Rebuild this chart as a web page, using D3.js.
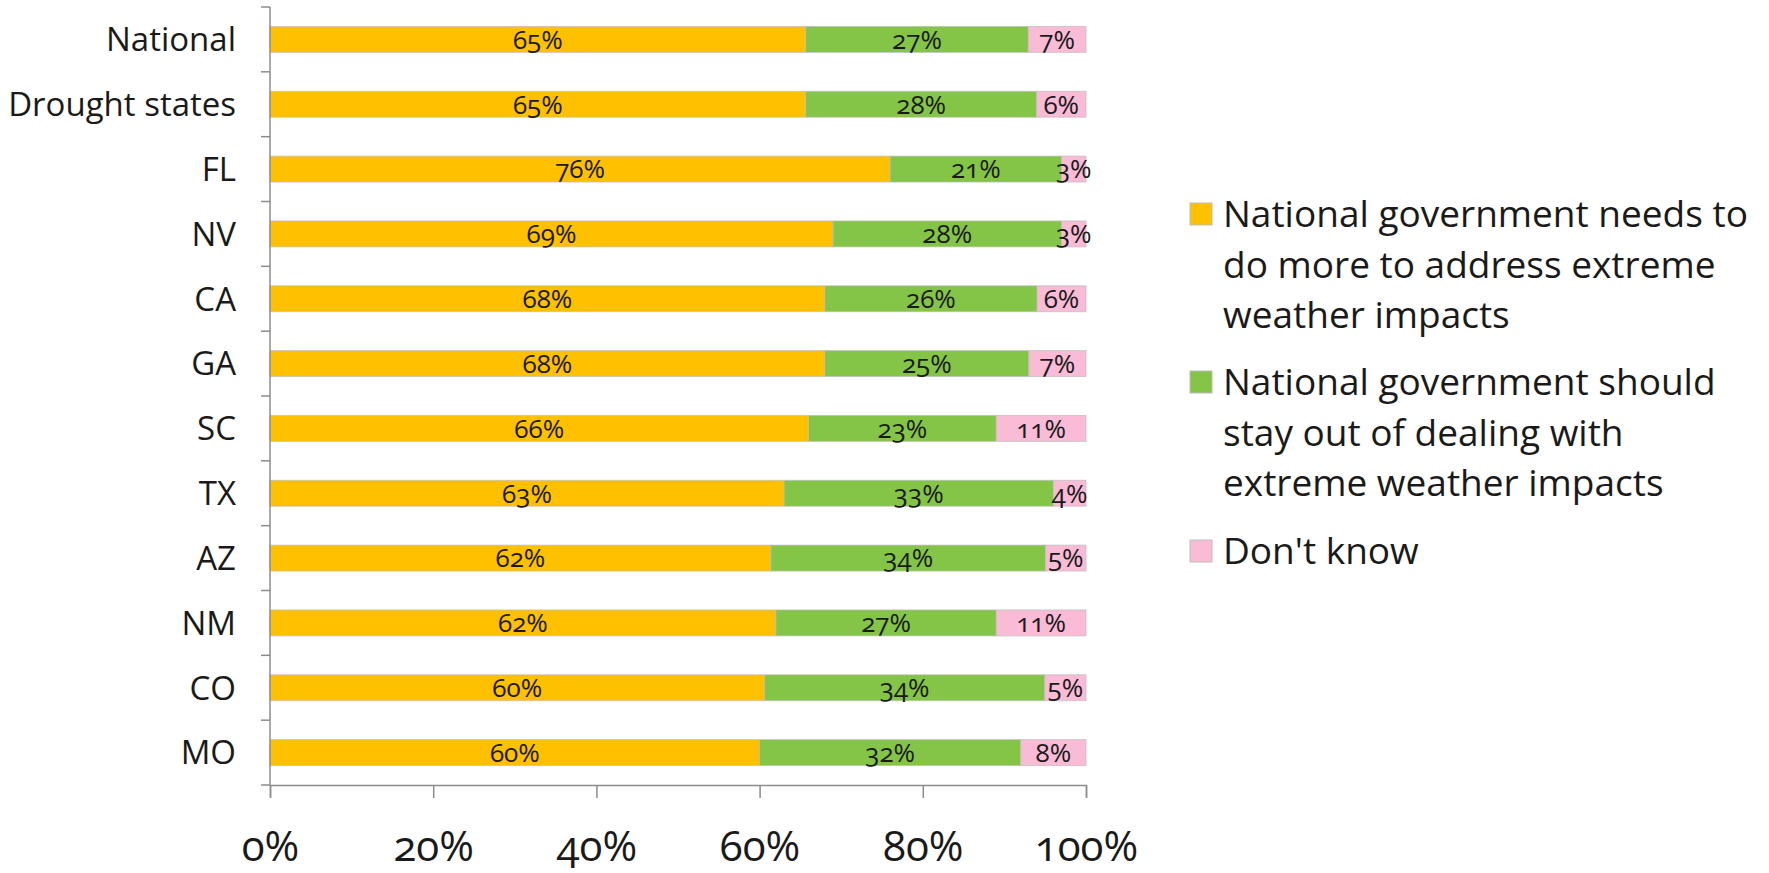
<!DOCTYPE html>
<html>
<head>
<meta charset="utf-8">
<script src="https://cdn.jsdelivr.net/npm/d3@7"></script>
<style>
  html, body { margin: 0; padding: 0; background: #fff; }
  svg { display: block; font-family: "Open Sans", "Lato", sans-serif; font-variant-numeric: oldstyle-nums; }
</style>
</head>
<body>
<svg id="chart" width="1769" height="873"></svg>
<script>
// ---- data ----
const categories = ["National", "Drought states", "FL", "NV", "CA", "GA", "SC", "TX", "AZ", "NM", "CO", "MO"];
const needMore   = [65, 65, 76, 69, 68, 68, 66, 63, 62, 62, 60, 60];
const stayOut    = [27, 28, 21, 28, 26, 25, 23, 33, 34, 27, 34, 32];
const dontKnow   = [7, 6, 3, 3, 6, 7, 11, 4, 5, 11, 5, 8];
const seriesNames = [
  ["National government needs to", "do more to address extreme", "weather impacts"],
  ["National government should", "stay out of dealing with", "extreme weather impacts"],
  ["Don't know"]
];
const seriesColors = ["#FFC000", "#84C446", "#F9BBD6"];
const xTicks = [0, 0.2, 0.4, 0.6, 0.8, 1.0];

// ---- layout ----
const svg = d3.select("#chart");
const plot = { left: 270, right: 1086, top: 7, bottom: 785 };

const x = d3.scaleLinear().domain([0, 1]).range([plot.left, plot.right]);
const y = d3.scaleBand().domain(categories).range([plot.top, plot.bottom])
  .paddingInner(0.6).paddingOuter(0.3);

const rows = categories.map((c, i) => ({ cat: c, vals: [needMore[i], stayOut[i], dontKnow[i]] }));

// bars (100% stacked)
const segs = [];
rows.forEach(r => {
  const total = d3.sum(r.vals);
  let acc = 0;
  r.vals.forEach((v, k) => {
    segs.push({ cat: r.cat, k, v, x0: acc / total, x1: (acc + v) / total });
    acc += v;
  });
});

const gBars = svg.append("g");
gBars.selectAll("rect").data(segs).join("rect")
  .attr("x", d => x(d.x0))
  .attr("y", d => y(d.cat))
  .attr("width", d => x(d.x1) - x(d.x0))
  .attr("height", y.bandwidth())
  .attr("fill", d => seriesColors[d.k])
  .attr("stroke", "#bdbdbd")
  .attr("stroke-opacity", 0.7)
  .attr("stroke-width", 1);

gBars.selectAll("text").data(segs).join("text")
  .attr("x", d => (x(d.x0) + x(d.x1)) / 2)
  .attr("y", d => y(d.cat) + y.bandwidth() / 2)
  .attr("dy", "0.36em")
  .attr("text-anchor", "middle")
  .attr("font-size", 26)
  .attr("fill", "#1a1a1a")
  .text(d => d.v + "%");

// y axis: line + boundary ticks
const axisColor = "#8c8c8c";
svg.append("line")
  .attr("x1", plot.left).attr("x2", plot.left)
  .attr("y1", plot.top).attr("y2", plot.bottom)
  .attr("stroke", axisColor).attr("stroke-width", 1.5);
const step = y.step();
const boundaries = d3.range(categories.length + 1).map(i => y(categories[0]) - y.paddingOuter() * step + i * step);
svg.append("g").selectAll("line").data(boundaries).join("line")
  .attr("x1", plot.left - 9).attr("x2", plot.left)
  .attr("y1", d => d).attr("y2", d => d)
  .attr("stroke", axisColor).attr("stroke-width", 1.5);

svg.append("g").selectAll("text").data(categories).join("text")
  .attr("x", plot.left - 34)
  .attr("y", d => y(d) + y.bandwidth() / 2)
  .attr("dy", "0.36em")
  .attr("text-anchor", "end")
  .attr("font-size", 33)
  .attr("fill", "#1a1a1a")
  .text(d => d);

// x axis
const xAxis = d3.axisBottom(x).tickValues(xTicks).tickFormat(d3.format(".0%"))
  .tickSize(13).tickPadding(33);
const gx = svg.append("g").attr("transform", `translate(0,${plot.bottom})`).call(xAxis);
gx.select(".domain").attr("stroke", axisColor).attr("stroke-width", 1.5);
gx.selectAll(".tick line").attr("stroke", axisColor).attr("stroke-width", 1.5);
gx.selectAll(".tick text").attr("font-size", 42).attr("fill", "#1a1a1a")
  .attr("font-family", "'Open Sans', sans-serif");

// legend
const legendX = 1190;
const lineH = 50.5;
const groupStarts = [214, 382, 551];
const gLeg = svg.append("g");
seriesNames.forEach((lines, k) => {
  const y0 = groupStarts[k];
  gLeg.append("rect")
    .attr("x", legendX).attr("y", y0 - 11)
    .attr("width", 22).attr("height", 22)
    .attr("fill", seriesColors[k])
    .attr("stroke", "#bdbdbd").attr("stroke-width", 1);
  const t = gLeg.append("text")
    .attr("x", legendX + 33)
    .attr("font-size", 37)
    .attr("fill", "#1a1a1a");
  lines.forEach((ln, j) => {
    t.append("tspan").attr("x", legendX + 33).attr("y", y0 + j * lineH).attr("dy", "0.36em").text(ln);
  });
});
</script>
</body>
</html>
